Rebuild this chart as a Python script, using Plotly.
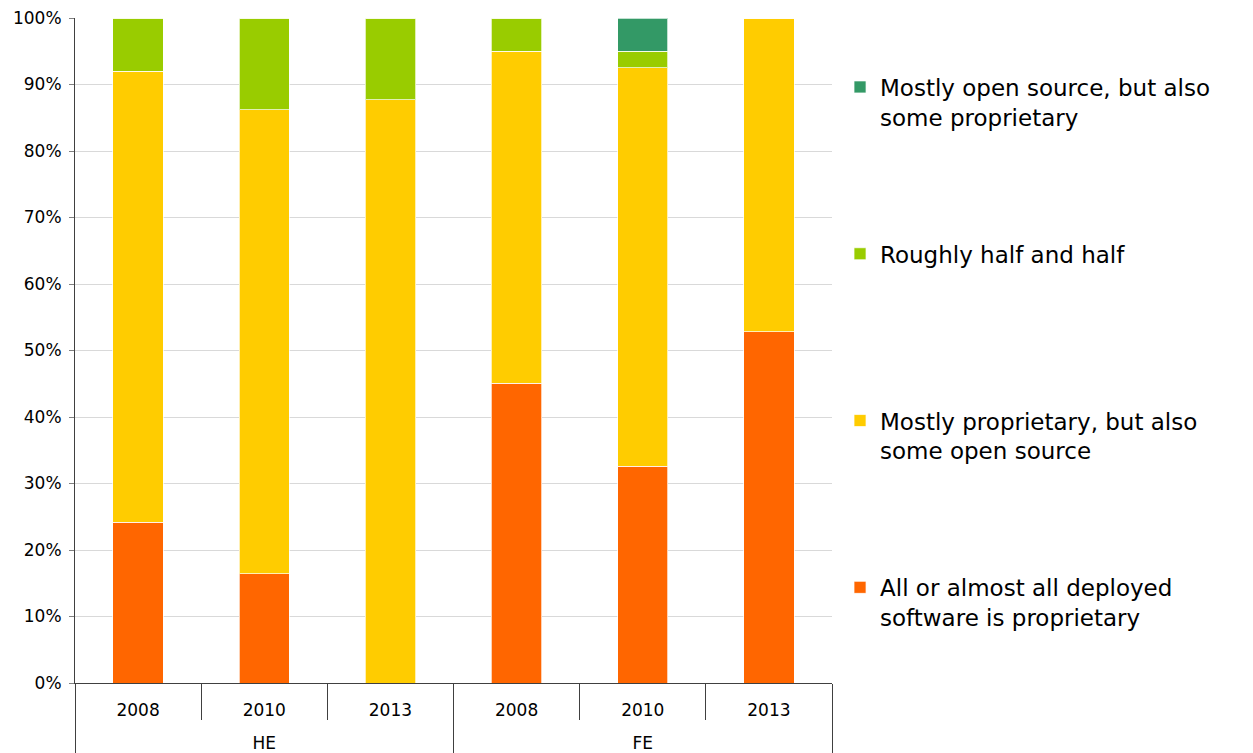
import plotly.graph_objects as go

# categories (outer group, year)
groups = ["HE", "HE", "HE", "FE", "FE", "FE"]
years = ["2008", "2010", "2013", "2008", "2010", "2013"]

# shares per category (fractions of 1)
proprietary_all = [0.242, 0.164, 0.0, 0.451, 0.326, 0.528]
mostly_proprietary = [0.678, 0.698, 0.877, 0.499, 0.599, 0.472]
half_half = [0.080, 0.138, 0.123, 0.050, 0.025, 0.0]
mostly_open = [0.0, 0.0, 0.0, 0.0, 0.050, 0.0]

series_names = [
    "All or almost all deployed<br>software is proprietary",
    "Mostly proprietary, but also<br>some open source",
    "Roughly half and half<br> ",   # blank 2nd line keeps legend spacing even
    "Mostly open source, but also<br>some proprietary",
]
series_values = [proprietary_all, mostly_proprietary, half_half, mostly_open]
colors = ["#FF6600", "#FFCC00", "#99CC00", "#339966"]

# push the group row further down, like the original
group_labels = ["<br>" + g for g in groups]

fig = go.Figure()
for i, (name, vals, col) in enumerate(zip(series_names, series_values, colors)):
    fig.add_trace(go.Bar(
        x=[group_labels, years], y=vals, name=name,
        marker_color=col,
        marker_line=dict(color="rgba(255,255,255,0.7)", width=1),
        legendgroup="g%d" % i,
        legendrank=10 - i,
    ))

# page has an 8px body margin, so the figure is a little smaller than the window
fig.update_layout(
    barmode="stack",
    bargap=0.6,
    width=1245, height=745,
    margin=dict(l=67, r=421, t=10, b=70),
    plot_bgcolor="white",
    paper_bgcolor="white",
    font=dict(family="DejaVu Sans, Verdana, sans-serif", color="#000000", size=17),
    legend=dict(
        x=1.0106, xanchor="left", y=0.497, yanchor="middle",
        traceorder="grouped",
        tracegroupgap=104,
        valign="top",
        font=dict(size=23),
        itemwidth=30,
    ),
)
fig.update_yaxes(
    range=[0, 1], dtick=0.1, tickformat=".0%",
    showgrid=True, gridcolor="#D9D9D9", gridwidth=1,
    showline=True, linecolor="#404040", linewidth=1,
    ticks="outside", ticklen=5, tickcolor="#808080",
    tickfont=dict(size=17), ticklabelstandoff=4,
    ticklabeloverflow="allow",
    zeroline=False, automargin=False,
)
fig.update_xaxes(
    type="multicategory",
    showline=True, linecolor="#404040", linewidth=1,
    ticks="outside", tickson="boundaries", ticklen=36, tickcolor="#404040",
    showdividers=True, dividercolor="#404040", dividerwidth=1,
    tickfont=dict(size=17), ticklabelstandoff=12,
    automargin=False,
)

fig.write_html("out.html")
